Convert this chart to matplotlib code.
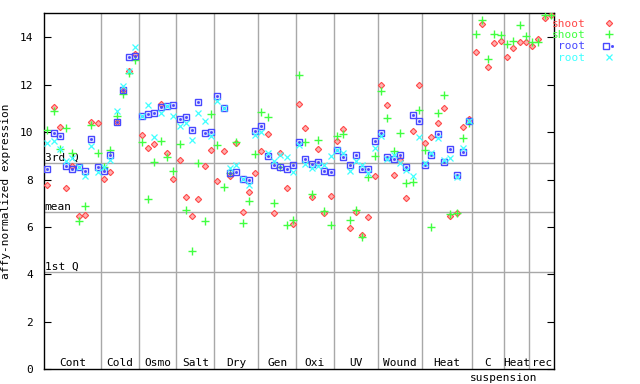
import numpy as np
import matplotlib
matplotlib.use("Agg")
import matplotlib.pyplot as plt
from matplotlib.legend_handler import HandlerTuple

# groups along the x axis (one slot per sample)
group_names = ["Cont", "Cold", "Osmo", "Salt", "Dry", "Gen", "Oxi", "UV",
               "Wound", "Heat", "C", "Heat", "rec"]
group_sizes = [9, 6, 6, 6, 7, 6, 6, 7, 7, 8, 5, 4, 4]

shoot_red = [
    7.76, 11.05, 10.2, 7.63, 8.57, 6.46, 6.5, 10.42, 10.38,
    8.01, 8.31, 10.42, 11.78, 12.56, 13.3,
    9.88, 9.32, 9.49, 11.18, 9.11, 8.01,
    8.81, 7.28, 6.46, 7.17, 8.57, 9.24,
    7.93, 9.19, 8.14, 9.53, 6.62, 7.46, 8.27,
    9.19, 9.91, 6.58, 9.12, 7.63, 6.11,
    11.18, 10.16, 7.25, 9.28, 6.58, 7.29,
    9.61, 10.12, 5.95, 6.62, 5.65, 6.41, 8.14,
    11.98, 11.13, 8.18, 8.81, 7.22, 10.04, 11.98,
    9.53, 9.78, 10.37, 11.01, 6.45, 6.58, 10.2, 10.54,
    13.37, 14.55, 12.74, 13.75, 13.83,
    13.16, 13.54, 13.79, 13.79,
    13.62, 13.92, 14.8, 14.93,
]
shoot_green = [
    10.08, 10.88, 9.3, 10.17, 9.11, 6.25, 6.88, 10.29, 9.11,
    8.54, 9.24, 10.67, 11.6, 12.49, 13.03,
    9.57, 7.17, 8.72, 9.61, 8.93, 8.35,
    9.49, 6.71, 4.98, 8.69, 6.24, 10.75,
    9.45, 7.67, 8.27, 9.57, 6.16, 7.08, 9.07,
    10.84, 10.63, 7.0, 8.55, 6.07, 6.29,
    12.4, 9.57, 7.38, 9.66, 6.66, 6.07,
    9.83, 9.91, 6.28, 6.7, 5.57, 8.1, 8.98,
    11.72, 10.58, 9.19, 9.95, 7.84, 7.89, 10.92,
    9.24, 5.99, 10.8, 11.55, 6.54, 6.61, 9.74, 10.37,
    14.13, 14.72, 13.07, 14.13, 14.09,
    13.71, 13.83, 14.51, 14.04,
    13.79, 13.79, 14.93, 14.93,
]
root_blue = [
    8.43, 9.95, 9.84, 8.57, 8.44, 8.51, 8.35, 9.7, 8.52,
    8.35, 9.02, 10.42, 11.76, 13.16, 13.2,
    10.69, 10.75, 10.8, 11.05, 11.12, 11.13,
    10.54, 10.62, 10.08, 11.26, 9.95, 9.99,
    11.51, 11.02, 8.27, 8.31, 8.02, 7.97, 10.05,
    10.25, 8.98, 8.6, 8.55, 8.43, 8.6,
    9.57, 8.86, 8.64, 8.73, 8.35, 8.31,
    9.26, 8.94, 8.6, 9.02, 8.43, 8.43, 9.61,
    9.95, 8.94, 8.86, 9.02, 8.52, 10.71, 10.46,
    8.6, 9.02, 9.91, 8.73, 9.28, 8.18, 9.15, 10.46,
]
root_cyan = [
    9.53, 9.63, 9.29, 8.8, 8.9, 8.51, 8.17, 9.41, 8.3,
    8.55, 8.82, 10.89, 11.95, 12.57, 13.57,
    10.69, 11.13, 9.79, 10.8, 11.12, 10.66,
    10.24, 10.37, 9.66, 10.8, 10.46, 9.82,
    11.32, 11.02, 8.48, 8.6, 8.02, 7.76, 9.87,
    9.99, 9.11, 8.77, 9.03, 8.95, 8.31,
    9.44, 8.64, 8.48, 8.56, 8.6, 8.98,
    9.25, 9.11, 8.35, 8.8, 8.6, 8.29, 9.32,
    9.83, 8.86, 9.02, 8.69, 8.39, 8.14, 9.78,
    8.69, 9.11, 9.74, 8.81, 8.9, 8.1, 9.32, 10.46,
]

q3_value = 8.69
mean_value = 6.63
q1_value = 4.09

MONO = "DejaVu Sans Mono"
GRID = "#a8a8a8"


def main():
    plt.rcParams["font.family"] = MONO
    fig = plt.figure(figsize=(6.4, 3.84), dpi=100)
    ax = fig.add_axes([0.069, 0.038, 0.797, 0.927])

    bounds = np.cumsum([0] + group_sizes)
    n = bounds[-1]
    x_shoot = np.arange(len(shoot_red)) + 0.5
    x_root = np.arange(len(root_blue)) + 0.5

    for b in bounds[1:-1]:
        ax.axvline(b, color=GRID, lw=1, zorder=1)
    for v, lab in [(q3_value, "3rd Q"), (mean_value, "mean"), (q1_value, "1st Q")]:
        ax.axhline(v, color=GRID, lw=1, zorder=1)
        ax.text(0.1, v + 0.02, lab, fontsize=8, va="bottom", ha="left")

    h1, = ax.plot(x_shoot, shoot_red, ls="none", marker="D", ms=3.2,
                  mfc="#ffb0b0", mec="#ff4848", mew=0.8, label="shoot", zorder=3)
    h2, = ax.plot(x_shoot, shoot_green, ls="none", marker="+", ms=6,
                  mew=1.0, color="#40ff40", label="shoot", zorder=4)
    h3, = ax.plot(x_root, root_blue, ls="none", marker="s", ms=4.2,
                  mfc="none", mec="#4848ff", mew=1.0, label="root", zorder=5)
    h3d, = ax.plot(x_root, root_blue, ls="none", marker="s", ms=1.0,
                   color="#4848ff", zorder=5)
    h4, = ax.plot(x_root, root_cyan, ls="none", marker="x", ms=4.5,
                  mew=0.9, color="#40ffff", label="root", zorder=6)

    for name, lo, hi in zip(group_names, bounds[:-1], bounds[1:]):
        ax.text((lo + hi) / 2, 0.05, name, ha="center", va="bottom", fontsize=8)
    ax.text(bounds[11], -0.15, "suspension", ha="center", va="top",
            fontsize=8, clip_on=False)

    ax.set_xlim(0, n)
    ax.set_ylim(0, 15)
    ax.set_xticks([])
    ax.set_yticks(range(0, 15, 2))
    ax.tick_params(axis="y", direction="in", length=5, right=True,
                   labelsize=8, pad=8)
    ax.set_ylabel("affy-normalized expression", fontsize=8, labelpad=6)
    for s in ax.spines.values():
        s.set_linewidth(1.0)

    leg = ax.legend([h1, h2, (h3, h3d), h4], ["shoot", "shoot", "root", "root"],
                    handler_map={tuple: HandlerTuple(ndivide=None)},
                    loc="upper left", bbox_to_anchor=(0.995, 0.985),
                    frameon=False, markerfirst=False, fontsize=8,
                    handlelength=1.0, handletextpad=1.6, labelspacing=0.12,
                    borderpad=0, borderaxespad=0)
    for t, c in zip(leg.get_texts(), ["#ff4848", "#40ff40", "#4848ff", "#40ffff"]):
        t.set_color(c)

    fig.savefig("out.png", dpi=100)


if __name__ == "__main__":
    main()
